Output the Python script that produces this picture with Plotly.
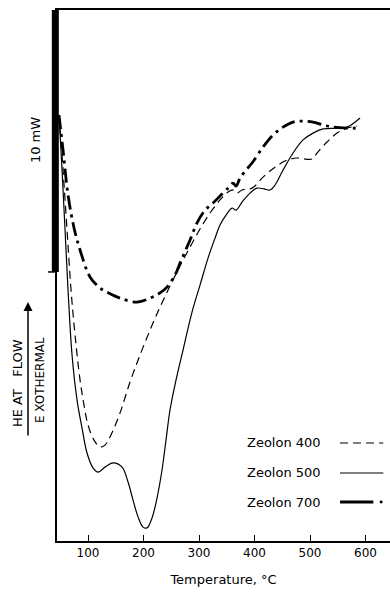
import plotly.graph_objects as go

# Temperature (°C) and heat flow (mW, baseline = bottom axis)
t_400 = [47.7, 55.0, 62.2, 69.4, 76.6, 85.6, 92.8, 100.0, 110.8, 121.6, 130.6, 139.6, 157.7, 175.7,
         193.7, 211.7, 229.7, 247.7, 265.8, 283.8, 301.8, 319.8, 337.8, 352.3, 361.3, 368.5, 377.5,
         395.5, 415.3, 436.9, 458.6, 476.6, 503.6, 512.6, 530.6, 548.6, 566.7, 584.7]
q_400 = [16.26, 14.16, 11.87, 9.58, 7.86, 6.15, 5.19, 4.43, 3.85, 3.59, 3.66, 3.97, 4.89, 6.07,
         7.10, 8.05, 8.93, 9.73, 10.50, 11.22, 11.91, 12.52, 13.02, 13.32, 13.40, 13.28, 13.40,
         13.47, 13.89, 14.27, 14.54, 14.62, 14.58, 14.81, 15.23, 15.57, 15.76, 15.84]

t_500 = [47.7, 53.2, 58.6, 64.0, 71.2, 80.2, 89.2, 98.2, 109.0, 118.0, 130.6, 145.0, 161.3, 172.1,
         181.1, 190.1, 199.1, 206.3, 215.3, 224.3, 233.3, 240.5, 247.7, 258.6, 271.2, 287.4, 301.8,
         316.2, 328.8, 337.8, 348.6, 359.5, 366.7, 377.5, 391.9, 404.5, 417.1, 427.9, 437.0, 451.4,
         469.4, 487.4, 505.4, 523.4, 548.6, 566.7, 590.1]
q_500 = [16.26, 14.16, 11.87, 9.58, 7.10, 5.38, 4.31, 3.36, 2.79, 2.63, 2.82, 2.98, 2.82, 2.25,
         1.56, 0.92, 0.53, 0.50, 0.88, 1.64, 2.71, 3.85, 5.00, 6.15, 7.29, 8.74, 9.77,
         10.80, 11.56, 12.06, 12.44, 12.71, 12.63, 12.94, 13.28, 13.47, 13.44, 13.40, 13.59, 14.16,
         14.81, 15.31, 15.57, 15.73, 15.76, 15.80, 16.15]

t_700 = [47.7, 55.0, 64.0, 74.8, 85.6, 103.6, 121.6, 134.2, 157.7, 188.3, 211.7, 229.7, 242.3,
         256.8, 265.8, 283.8, 296.4, 310.8, 325.2, 337.8, 352.3, 361.3, 366.7, 373.9, 384.7, 395.5,
         415.3, 433.3, 451.4, 469.4, 487.4, 505.4, 523.4, 541.4, 566.7, 590.1]
q_700 = [16.26, 14.92, 13.21, 11.95, 11.11, 10.08, 9.66, 9.50, 9.27, 9.12, 9.27, 9.47, 9.69,
         10.15, 10.61, 11.49, 12.14, 12.63, 12.90, 13.17, 13.47, 13.66, 13.55, 13.85, 14.16, 14.43,
         15.04, 15.50, 15.80, 15.99, 16.03, 15.99, 15.88, 15.80, 15.76, 15.76]

x_ticks = [100, 200, 300, 400, 500, 600]
series_names = ["Zeolon 400", "Zeolon 500", "Zeolon 700"]
scale_bar = [10.27, 20.27]  # 10 mW bar

FONT = "DejaVu Sans"
DASHDOT = "14px,5px,3px,5px"
styles = [dict(width=1.2, dash="8px,5px"),
          dict(width=1.2, dash="solid"),
          dict(width=2.8, dash=DASHDOT)]

fig = go.Figure()
for t, q, name, st in zip([t_400, t_500, t_700], [q_400, q_500, q_700], series_names, styles):
    fig.add_trace(go.Scatter(x=t, y=q, mode="lines", name=name, line_shape="spline",
                             line=dict(color="black", **st), showlegend=False))

# scale bar on the y axis
fig.add_shape(type="line", xref="paper", yref="y", x0=-0.005, x1=-0.005,
              y0=scale_bar[0], y1=scale_bar[1], line=dict(color="black", width=7))
fig.add_shape(type="line", xref="paper", yref="y", x0=-0.027, x1=0.0,
              y0=scale_bar[0], y1=scale_bar[0], line=dict(color="black", width=1.5))

# legend drawn as text + sample lines
rows_y = [0.1846, 0.1281, 0.0734]
for name, st, ry in zip(series_names, styles, rows_y):
    fig.add_annotation(xref="paper", yref="paper", x=0.80, y=ry, text=name, showarrow=False,
                       xanchor="right", yanchor="middle", font=dict(family=FONT, size=13, color="black"))
    if st["dash"] == DASHDOT:
        fig.add_shape(type="line", xref="paper", yref="paper", x0=0.85, x1=0.95, y0=ry, y1=ry,
                      line=dict(color="black", width=st["width"]))
        fig.add_shape(type="circle", xref="paper", yref="paper", x0=0.969, x1=0.978,
                      y0=ry - 0.0028, y1=ry + 0.0028, fillcolor="black", line=dict(width=0))
    else:
        fig.add_shape(type="line", xref="paper", yref="paper", x0=0.85, x1=0.98, y0=ry, y1=ry,
                      line=dict(color="black", width=st["width"], dash=st["dash"]))

# annotations
fig.add_annotation(xref="paper", yref="paper", x=-0.066, y=0.755, text="10 mW", textangle=-90,
                   xanchor="center", yanchor="middle",
                   showarrow=False, font=dict(family=FONT, size=13, color="black"))
fig.add_annotation(xref="paper", yref="paper", x=-0.117, y=0.2976, text="HE AT   FLOW", textangle=-90,
                   xanchor="center", yanchor="middle",
                   showarrow=False, font=dict(family=FONT, size=13, color="black"))
fig.add_annotation(xref="paper", yref="paper", x=-0.051, y=0.303, text="E XOTHERMAL", textangle=-90,
                   xanchor="center", yanchor="middle",
                   showarrow=False, font=dict(family=FONT, size=12, color="black"))
fig.add_annotation(xref="paper", yref="paper", x=-0.0871, y=0.450, ax=0, ay=135, text="",
                   showarrow=True, arrowhead=2, arrowsize=1.2, arrowwidth=1.5, arrowcolor="black")

fig.update_layout(
    width=390, height=598, margin=dict(l=57, r=0, t=10, b=57),
    paper_bgcolor="white", plot_bgcolor="white",
    font=dict(family=FONT, color="black"),
    xaxis=dict(range=[44.1, 644.1], tickvals=x_ticks, ticktext=[str(v) for v in x_ticks],
               ticks="inside", ticklen=6, tickwidth=1.2, tickcolor="black",
               showline=True, linecolor="black", linewidth=1.5, mirror=True,
               showgrid=False, zeroline=False, tickfont=dict(size=12),
               title=dict(text="Temperature, °C", font=dict(size=13), standoff=16)),
    yaxis=dict(range=[0, 20.27], showticklabels=False, ticks="", showline=True,
               linecolor="black", linewidth=1.5, showgrid=False, zeroline=False),
)
fig.write_html("out.html")
